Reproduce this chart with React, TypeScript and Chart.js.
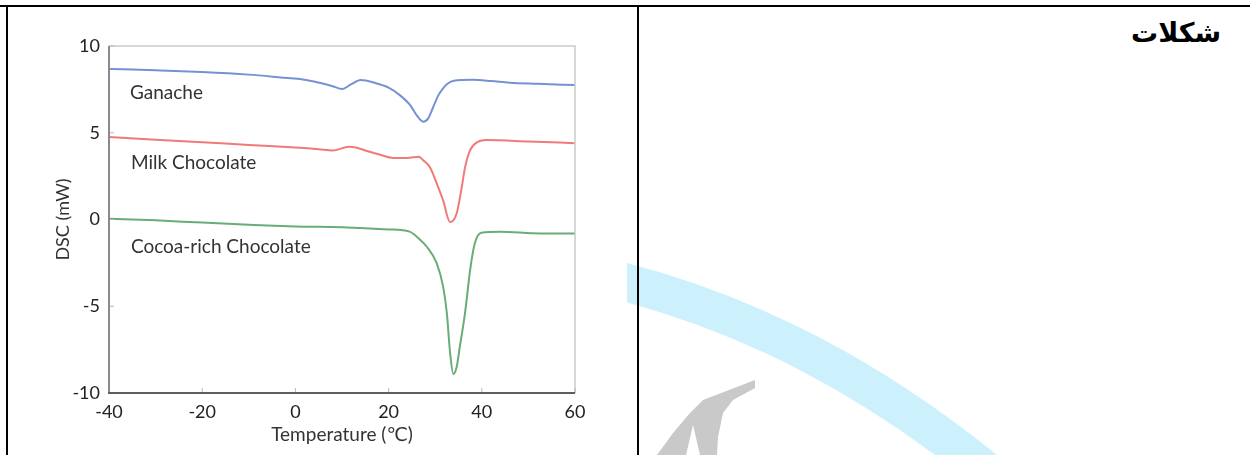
import React, { useEffect, useRef } from "react";
import { Chart, registerables } from "chart.js";

Chart.register(...registerables);

// ---- Data ----
const xTicks = [-40, -20, 0, 20, 40, 60];
const yTicks = [-10, -5, 0, 5, 10];

const seriesNames = ["Ganache", "Milk Chocolate", "Cocoa-rich Chocolate"];
const seriesColors = ["#7593d2", "#f07a7a", "#68ad78"];

const ganacheT = [-40, -30, -20, -10, -1, 1, 4, 8, 10, 12, 14, 17, 20, 22.4, 24.6, 26, 27.4, 28.5, 29.6, 30.7, 31.4, 32.5, 34, 38, 42, 46, 52, 60];
const ganacheV = [8.68, 8.6, 8.5, 8.35, 8.14, 8.1, 7.95, 7.68, 7.52, 7.8, 8.04, 7.88, 7.6, 7.17, 6.6, 6.02, 5.64, 5.83, 6.5, 7.17, 7.46, 7.8, 8.0, 8.05, 7.98, 7.88, 7.82, 7.75];

const milkT = [-40, -30, -20, -10, 0, 5, 8, 11.5, 13, 15, 18, 21, 24, 26.5, 27.3, 28.9, 30.3, 31.7, 33.2, 34.6, 35.6, 36.4, 37.5, 39.2, 41, 50, 60];
const milkV = [4.75, 4.6, 4.45, 4.3, 4.15, 4.05, 3.97, 4.2, 4.15, 3.98, 3.75, 3.55, 3.55, 3.62, 3.45, 3.0, 2.1, 1.1, -0.15, 0.35, 1.7, 3.0, 4.0, 4.48, 4.58, 4.5, 4.4];

const cocoaT = [-40, -30, -20, -10, 0, 10, 20, 24.5, 26.5, 28.2, 30.3, 31.7, 32.5, 33.2, 33.9, 34.6, 35.3, 36.4, 37.5, 38.5, 39.9, 43.9, 52.5, 60];
const cocoaV = [0.05, -0.05, -0.18, -0.3, -0.4, -0.45, -0.57, -0.7, -1.1, -1.57, -2.5, -3.87, -5.4, -7.7, -8.9, -8.5, -7.3, -5.4, -2.9, -1.37, -0.76, -0.7, -0.8, -0.8];

const labelT = [-35.5, -35.3, -35.3];
const labelV = [7.3, 3.25, -1.6];

const xTitle = "Temperature (℃)";
const yTitle = "DSC (mW)";
const cellTitle = "شکلات";

const FONT = "Lato, 'Open Sans', 'DejaVu Sans', sans-serif";

function toPoints(xs: number[], ys: number[]) {
  return xs.map((x, i) => ({ x, y: ys[i] }));
}

const framePlugin = {
  id: "frame",
  afterDraw(chart: any) {
    const { ctx, chartArea } = chart;
    const { left, right, top, bottom } = chartArea;
    const xs = chart.scales.x;
    const ys = chart.scales.y;
    ctx.save();
    // light top/right border
    ctx.strokeStyle = "#cacaca";
    ctx.lineWidth = 1.5;
    ctx.beginPath();
    ctx.moveTo(left, top);
    ctx.lineTo(right, top);
    ctx.lineTo(right, bottom);
    ctx.stroke();
    // inner ticks
    ctx.strokeStyle = "#b8b8b8";
    ctx.lineWidth = 1;
    xTicks.forEach((t) => {
      const px = xs.getPixelForValue(t);
      ctx.beginPath();
      ctx.moveTo(px, bottom);
      ctx.lineTo(px, bottom - 5);
      ctx.stroke();
    });
    yTicks.forEach((t) => {
      const py = ys.getPixelForValue(t);
      ctx.beginPath();
      ctx.moveTo(left, py);
      ctx.lineTo(left + 5, py);
      ctx.stroke();
    });
    // left axis
    ctx.strokeStyle = "#8a8a8a";
    ctx.lineWidth = 2;
    ctx.beginPath();
    ctx.moveTo(left, top);
    ctx.lineTo(left, bottom);
    ctx.stroke();
    // bottom axis
    ctx.strokeStyle = "#5e5e5e";
    ctx.beginPath();
    ctx.moveTo(left - 1, bottom);
    ctx.lineTo(right, bottom);
    ctx.stroke();
    // series labels
    ctx.fillStyle = "#333";
    ctx.font = `19px ${FONT}`;
    ctx.textAlign = "left";
    ctx.textBaseline = "middle";
    seriesNames.forEach((n, i) => {
      ctx.fillText(n, xs.getPixelForValue(labelT[i]), ys.getPixelForValue(labelV[i]));
    });
    ctx.restore();
  },
};

function DscChart() {
  const ref = useRef<HTMLCanvasElement | null>(null);
  useEffect(() => {
    if (!ref.current) return;
    const chart = new Chart(ref.current, {
      type: "line",
      data: {
        datasets: [
          { label: seriesNames[0], data: toPoints(ganacheT, ganacheV), borderColor: seriesColors[0] },
          { label: seriesNames[1], data: toPoints(milkT, milkV), borderColor: seriesColors[1] },
          { label: seriesNames[2], data: toPoints(cocoaT, cocoaV), borderColor: seriesColors[2] },
        ].map((d) => ({
          ...d,
          borderWidth: 2,
          pointRadius: 0,
          fill: false,
          cubicInterpolationMode: "monotone" as const,
        })),
      },
      options: {
        responsive: false,
        animation: false,
        layout: { padding: { left: 0, top: 46, right: 62, bottom: 0 } },
        plugins: { legend: { display: false }, tooltip: { enabled: false } },
        scales: {
          x: {
            type: "linear",
            min: -40,
            max: 60,
            afterFit: (s: any) => {
              s.height = 62;
            },
            afterBuildTicks: (s: any) => {
              s.ticks = xTicks.map((v) => ({ value: v }));
            },
            grid: { display: false, drawTicks: false },
            border: { display: false },
            ticks: { color: "#222", padding: 8, font: { family: FONT, size: 18 } },
            title: {
              display: true,
              text: xTitle,
              color: "#333",
              font: { family: FONT, size: 19 },
              padding: { top: 0, bottom: 9 },
            },
          },
          y: {
            type: "linear",
            min: -10,
            max: 10,
            afterFit: (s: any) => {
              s.width = 109;
            },
            afterBuildTicks: (s: any) => {
              s.ticks = yTicks.map((v) => ({ value: v }));
            },
            grid: { display: false, drawTicks: false },
            border: { display: false },
            ticks: { color: "#222", padding: 9, font: { family: FONT, size: 18 } },
            title: {
              display: true,
              text: yTitle,
              color: "#333",
              font: { family: FONT, size: 18 },
              padding: { top: 52, bottom: 0 },
            },
          },
        },
      },
      plugins: [framePlugin],
    });
    return () => chart.destroy();
  }, []);
  return (
    <canvas
      ref={ref}
      width={637}
      height={455}
      style={{ position: "absolute", left: 0, top: 0, width: 637, height: 455 }}
    />
  );
}

export default function App() {
  return (
    <div
      style={{
        position: "absolute",
        left: 0,
        top: 0,
        width: 1250,
        height: 455,
        overflow: "hidden",
        background: "#fff",
      }}
    >
      <svg
        width={1250}
        height={455}
        style={{ position: "absolute", left: 0, top: 0, pointerEvents: "none" }}
      >
        <defs>
          <clipPath id="rightCell">
            <rect x={627} y={0} width={623} height={455} />
          </clipPath>
        </defs>
        <path
          d="M 600 276 C 750 311, 880 382, 1000 482"
          stroke="#cdf1fc"
          strokeWidth={38}
          fill="none"
          clipPath="url(#rightCell)"
        />
        <polygon
          points="657,455 673,433 690,413 703,400 755,380 755,388 733,400 723,413 718,437 717,455 700,455 693,425 686,455"
          fill="#c9c9c9"
        />
      </svg>
      <DscChart />
      <div style={{ position: "absolute", left: 0, top: 5, width: 1250, height: 2, background: "#000" }} />
      <div style={{ position: "absolute", left: 6, top: 5, width: 2, height: 450, background: "#000" }} />
      <div style={{ position: "absolute", left: 637, top: 5, width: 2, height: 450, background: "#000" }} />
      <div
        dir="rtl"
        style={{
          position: "absolute",
          right: 29,
          top: 17,
          fontFamily: "'DejaVu Sans', sans-serif",
          fontWeight: "bold",
          fontSize: 27,
          color: "#000",
        }}
      >
        {cellTitle}
      </div>
    </div>
  );
}
